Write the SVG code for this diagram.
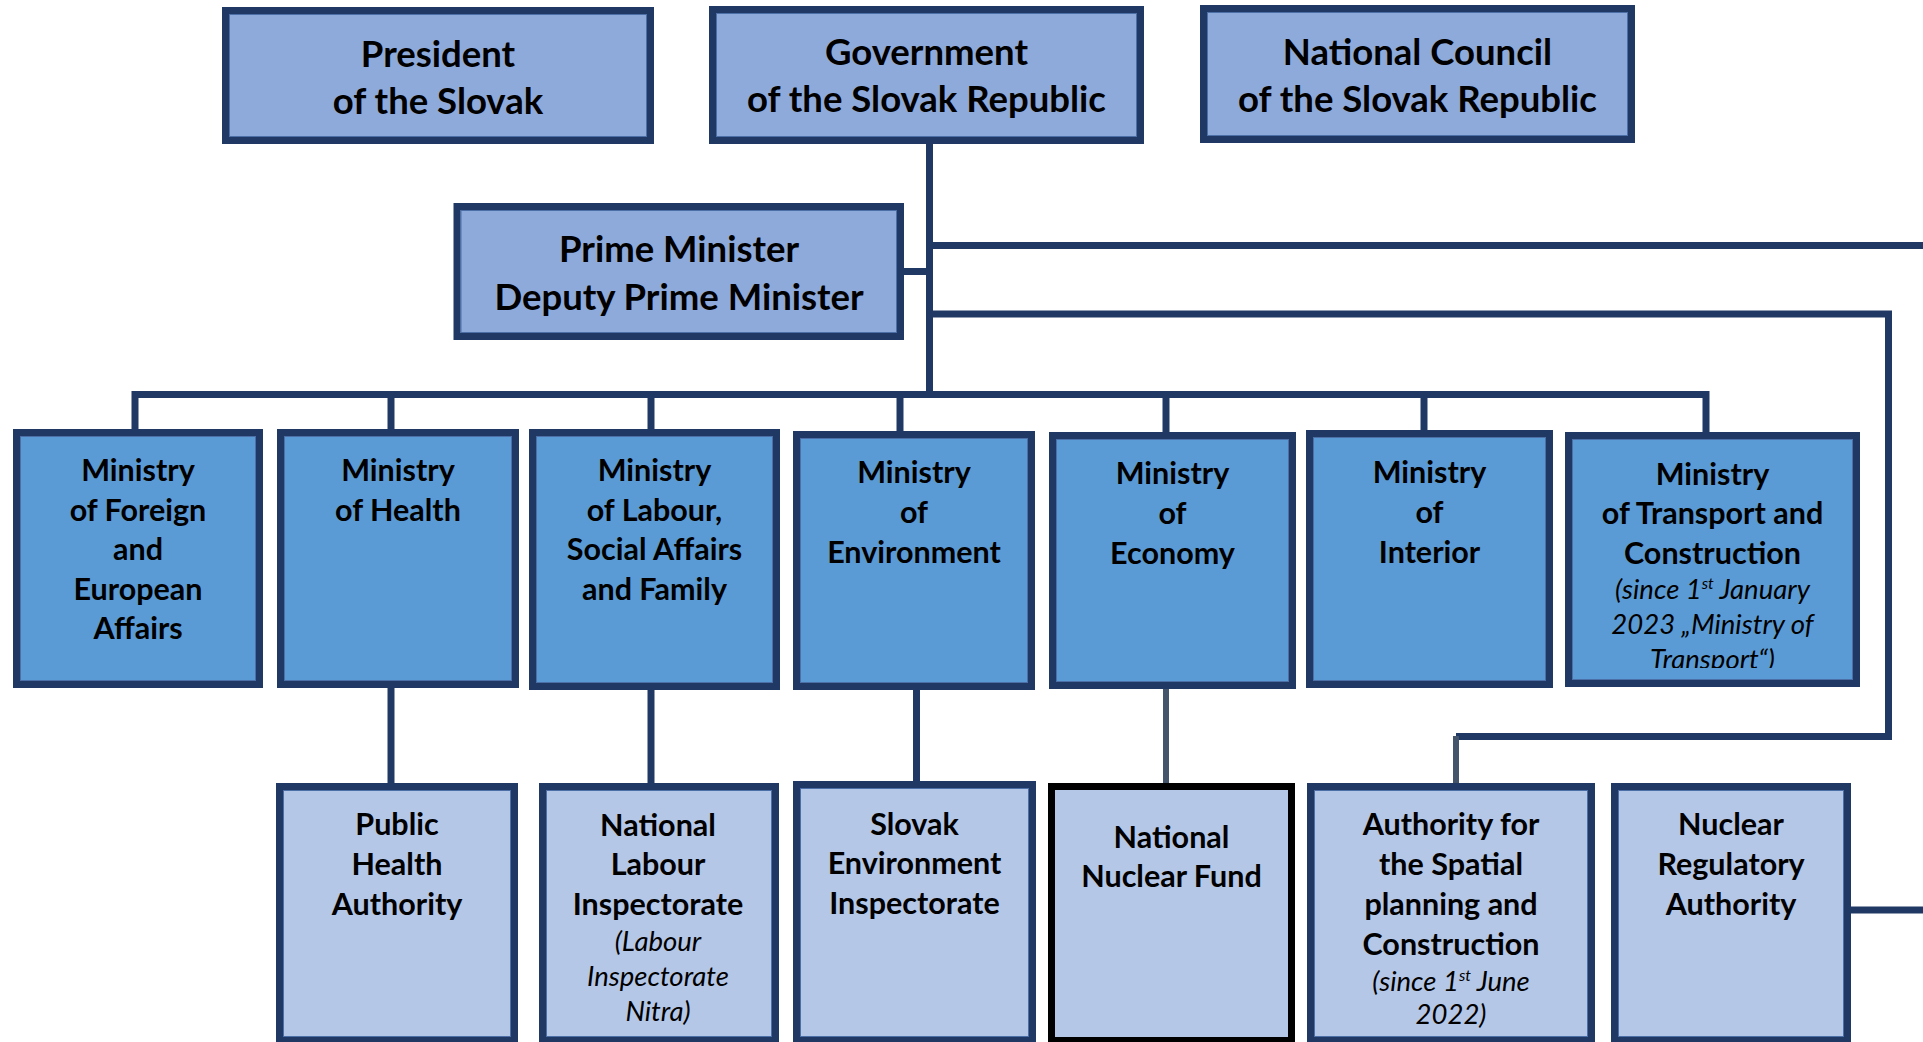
<svg xmlns="http://www.w3.org/2000/svg" width="1923" height="1042" viewBox="0 0 1923 1042">
  <defs>
    <style>
      .box { stroke: #203864; stroke-width: 7; }
      .inner { fill: none; stroke: #4d6fa8; stroke-width: 1; }
      .top { fill: #8eaadb; }
      .min { fill: #5b9bd5; }
      .sub { fill: #b4c7e7; }
      .black { stroke: #000000; }
      .ln { fill: none; stroke: #203864; stroke-width: 7; }
      .gray { fill: none; stroke: #44546a; stroke-width: 6; }
      text { font-family: Lato, "Open Sans", "Liberation Sans", sans-serif; font-weight: 700; fill: #000; text-anchor: middle; }
      .h1 { font-size: 36.5px; }
      .h2 { font-size: 30.5px; }
      .it { font-size: 27.5px; font-style: italic; font-weight: 400; }
      .sup { font-size: 16px; }
    </style>
    <clipPath id="transportClip">
      <rect x="1569" y="436" width="287" height="232"/>
    </clipPath>
  </defs>

  <!-- connectors -->
  <g id="connectors">
    <!-- government trunk down to the ministries bus -->
    <path class="ln" d="M929.5,144 V394.5"/>
    <!-- prime minister stub -->
    <path class="ln" d="M904,271.5 H929.5"/>
    <!-- branch running off to the right -->
    <path class="ln" d="M929.5,245.5 H1923"/>
    <!-- branch to the spatial planning authority -->
    <path class="ln" d="M929.5,314 H1888.5 V736.5 H1456"/>
    <path class="gray" d="M1456,736 V786"/>
    <!-- ministries bus -->
    <path class="ln" d="M135,429 V394.5 H1706 V432"/>
    <path class="ln" d="M391,394.5 V429"/>
    <path class="ln" d="M651,394.5 V429"/>
    <path class="ln" d="M900,394.5 V431"/>
    <path class="ln" d="M1166,394.5 V432"/>
    <path class="ln" d="M1424,394.5 V430"/>
    <!-- ministries to their bodies -->
    <path class="ln" d="M391,688 V783"/>
    <path class="ln" d="M651,690 V783"/>
    <path class="ln" d="M916.5,690 V781"/>
    <path class="gray" d="M1166,686 V786"/>
    <!-- nuclear regulatory authority off to the right -->
    <path class="ln" d="M1851,910 H1923"/>
  </g>

  <!-- top row -->
  <g id="president">
    <rect class="box top" x="225.5" y="10.5" width="425" height="130"/>
    <rect class="inner" x="229.5" y="14.5" width="417" height="122"/>
    <text class="h1" x="438" y="66.5">President</text>
    <text class="h1" x="438" y="113.5">of the Slovak</text>
  </g>
  <g id="government">
    <rect class="box top" x="712.5" y="9.5" width="428" height="131"/>
    <rect class="inner" x="716.5" y="13.5" width="420" height="123"/>
    <text class="h1" x="926.5" y="64.5">Government</text>
    <text class="h1" x="926.5" y="112">of the Slovak Republic</text>
  </g>
  <g id="national-council">
    <rect class="box top" x="1203.5" y="8.5" width="428" height="131"/>
    <rect class="inner" x="1207.5" y="12.5" width="420" height="123"/>
    <text class="h1" x="1417.5" y="64.5">National Council</text>
    <text class="h1" x="1417.5" y="112">of the Slovak Republic</text>
  </g>
  <g id="prime-minister">
    <rect class="box top" x="457" y="206.5" width="443.5" height="130"/>
    <rect class="inner" x="461" y="210.5" width="435.5" height="122"/>
    <text class="h1" x="679" y="262">Prime Minister</text>
    <text class="h1" x="679" y="310">Deputy Prime Minister</text>
  </g>

  <!-- ministries -->
  <g id="ministry-foreign">
    <rect class="box min" x="16.5" y="432.5" width="243" height="252"/>
    <rect class="inner" x="20.5" y="436.5" width="235" height="244"/>
    <text class="h2" x="138" y="481">Ministry</text>
    <text class="h2" x="138" y="520.5">of Foreign</text>
    <text class="h2" x="138" y="560">and</text>
    <text class="h2" x="138" y="599.5">European</text>
    <text class="h2" x="138" y="639">Affairs</text>
  </g>
  <g id="ministry-health">
    <rect class="box min" x="280.5" y="432.5" width="235" height="252"/>
    <rect class="inner" x="284.5" y="436.5" width="227" height="244"/>
    <text class="h2" x="398" y="481">Ministry</text>
    <text class="h2" x="398" y="520.5">of Health</text>
  </g>
  <g id="ministry-labour">
    <rect class="box min" x="532.5" y="432.5" width="244" height="254"/>
    <rect class="inner" x="536.5" y="436.5" width="236" height="246"/>
    <text class="h2" x="654.5" y="481">Ministry</text>
    <text class="h2" x="654.5" y="520.5">of Labour,</text>
    <text class="h2" x="654.5" y="560">Social Affairs</text>
    <text class="h2" x="654.5" y="599.5">and Family</text>
  </g>
  <g id="ministry-environment">
    <rect class="box min" x="796.5" y="434.5" width="235" height="252"/>
    <rect class="inner" x="800.5" y="438.5" width="227" height="244"/>
    <text class="h2" x="914" y="482.7">Ministry</text>
    <text class="h2" x="914" y="522.7">of</text>
    <text class="h2" x="914" y="562.7">Environment</text>
  </g>
  <g id="ministry-economy">
    <rect class="box min" x="1052.5" y="435.5" width="240" height="250"/>
    <rect class="inner" x="1056.5" y="439.5" width="232" height="242"/>
    <text class="h2" x="1172.5" y="484">Ministry</text>
    <text class="h2" x="1172.5" y="524">of</text>
    <text class="h2" x="1172.5" y="564">Economy</text>
  </g>
  <g id="ministry-interior">
    <rect class="box min" x="1309.5" y="433.5" width="240" height="251"/>
    <rect class="inner" x="1313.5" y="437.5" width="232" height="243"/>
    <text class="h2" x="1429.5" y="482.7">Ministry</text>
    <text class="h2" x="1429.5" y="522.7">of</text>
    <text class="h2" x="1429.5" y="562.7">Interior</text>
  </g>
  <g id="ministry-transport">
    <rect class="box min" x="1568.5" y="435.5" width="288" height="248"/>
    <rect class="inner" x="1572.5" y="439.5" width="280" height="240"/>
    <text class="h2" x="1712.5" y="485">Ministry</text>
    <text class="h2" x="1712.5" y="524">of Transport and</text>
    <text class="h2" x="1712.5" y="564">Construction</text>
    <g clip-path="url(#transportClip)">
      <text class="it" x="1712.5" y="599">(since 1<tspan class="sup" dy="-10">st</tspan><tspan dy="10"> January</tspan></text>
      <text class="it" x="1712.5" y="634">2023 „Ministry of</text>
      <text class="it" x="1712.5" y="669">Transport“)</text>
    </g>
  </g>

  <!-- bodies under the ministries -->
  <g id="public-health-authority">
    <rect class="box sub" x="279.5" y="786.5" width="235" height="254"/>
    <rect class="inner" x="283.5" y="790.5" width="227" height="246"/>
    <text class="h2" x="397" y="835">Public</text>
    <text class="h2" x="397" y="875">Health</text>
    <text class="h2" x="397" y="915">Authority</text>
  </g>
  <g id="national-labour-inspectorate">
    <rect class="box sub" x="542.5" y="786.5" width="233" height="254"/>
    <rect class="inner" x="546.5" y="790.5" width="225" height="246"/>
    <text class="h2" x="658" y="836">National</text>
    <text class="h2" x="658" y="875">Labour</text>
    <text class="h2" x="658" y="915">Inspectorate</text>
    <text class="it" x="658" y="951">(Labour</text>
    <text class="it" x="658" y="986">Inspectorate</text>
    <text class="it" x="658" y="1021">Nitra)</text>
  </g>
  <g id="slovak-environment-inspectorate">
    <rect class="box sub" x="796.5" y="784.5" width="236" height="256"/>
    <rect class="inner" x="800.5" y="788.5" width="228" height="248"/>
    <text class="h2" x="914.5" y="835">Slovak</text>
    <text class="h2" x="914.5" y="874">Environment</text>
    <text class="h2" x="914.5" y="914">Inspectorate</text>
  </g>
  <g id="national-nuclear-fund">
    <rect class="box sub black" x="1051.5" y="786.5" width="240" height="254"/>
    <text class="h2" x="1171.5" y="848">National</text>
    <text class="h2" x="1171.5" y="887">Nuclear Fund</text>
  </g>
  <g id="spatial-planning-authority">
    <rect class="box sub" x="1310.5" y="786.5" width="281" height="254"/>
    <rect class="inner" x="1314.5" y="790.5" width="273" height="246"/>
    <text class="h2" x="1451" y="835">Authority for</text>
    <text class="h2" x="1451" y="875">the Spatial</text>
    <text class="h2" x="1451" y="915">planning and</text>
    <text class="h2" x="1451" y="955">Construction</text>
    <text class="it" x="1451" y="991">(since 1<tspan class="sup" dy="-10">st</tspan><tspan dy="10">  June</tspan></text>
    <text class="it" x="1451" y="1024">2022)</text>
  </g>
  <g id="nuclear-regulatory-authority">
    <rect class="box sub" x="1614.5" y="786.5" width="233" height="254"/>
    <rect class="inner" x="1618.5" y="790.5" width="225" height="246"/>
    <text class="h2" x="1731" y="835">Nuclear</text>
    <text class="h2" x="1731" y="875">Regulatory</text>
    <text class="h2" x="1731" y="915">Authority</text>
  </g>
</svg>
